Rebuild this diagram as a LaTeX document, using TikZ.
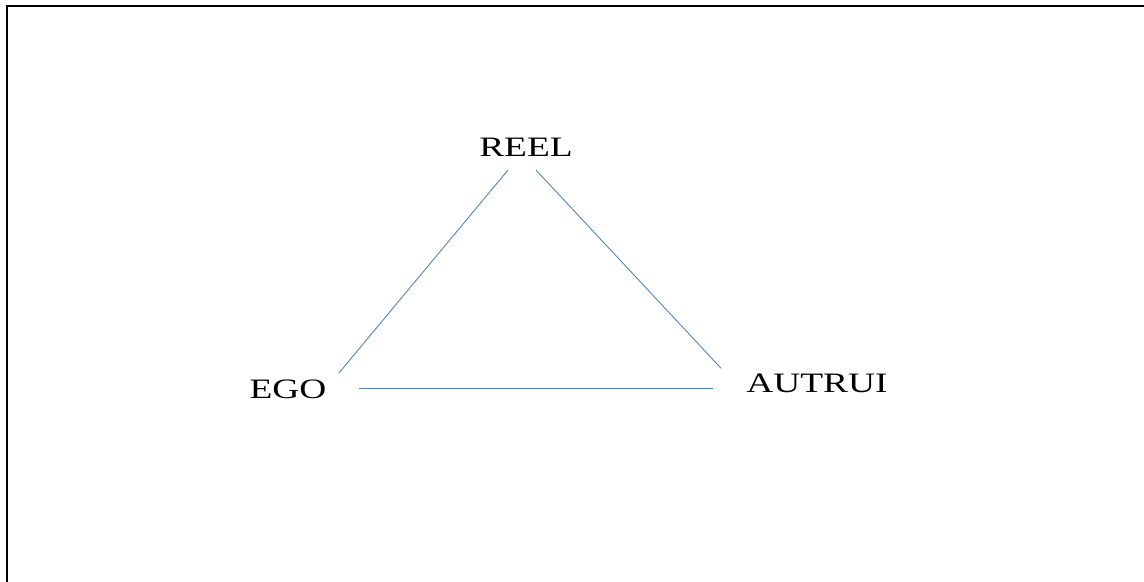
\documentclass[tikz,border=0pt]{standalone}
\usepackage{fontspec}
\newfontfamily\cornerfont[FakeStretch=1.33]{Liberation Serif}
\usetikzlibrary{calc}
\definecolor{edgeblue}{RGB}{79,129,189}

\begin{document}
\begin{tikzpicture}[
    x=0.02cm, y=-0.02cm,
    corner/.style={inner sep=0pt, font=\cornerfont\fontsize{16}{18}\selectfont},
    link/.style={draw=edgeblue, line width=0.5pt}
]
\useasboundingbox (0,0) rectangle (1144,582);
% frame
\draw[line width=1.1pt] (7,582) -- (7,6) -- (1144,6);

\node[corner] (reel) at (526,147) {REEL};
\node[corner] (ego) at (288,389) {EGO};
\node[corner] (autrui) at (817,383) {AUTRUI};

\draw[link] ($(reel.south)+(-18,13.5)$) -- ($(ego.north east)+(12,-6)$);
\draw[link] ($(reel.south)+(10,13.5)$) -- ($(autrui.north west)+(-25,-5)$);
\draw[link] ($(ego.east)+(32,-1)$) -- ($(autrui.west)+(-33,5)$);
\end{tikzpicture}
\end{document}
